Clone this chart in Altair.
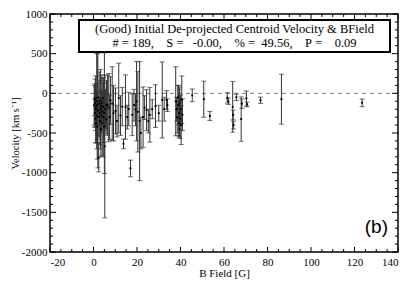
import altair as alt
import pandas as pd

# B field [G]
bfield = [
    0.3, 0.5, 0.6, 0.8, 0.9, 1.0, 1.1, 1.2, 1.3, 1.5, 1.6, 1.7, 1.8, 2.0, 2.1, 2.4,
    2.5, 2.6, 2.8, 3.0, 3.1, 3.2, 3.4, 3.5, 3.6, 3.8, 4.0, 4.1, 4.3, 4.5, 4.6, 4.8,
    5.0, 5.2, 5.5, 5.8, 6.0,
    6.4, 7.0, 7.4, 7.8, 8.6, 9.2, 10.1, 10.8, 11.6, 12.4, 13.2, 13.8, 14.7, 15.5,
    16.2, 17.0, 17.8, 18.6, 19.3, 19.8, 20.4, 21.2, 21.8, 22.8, 23.5, 24.4, 25.2,
    25.9, 27.0, 28.5, 30.0, 31.6, 32.5, 33.6, 34.0,
    37.8, 38.2, 38.5, 38.8, 39.0, 39.2, 39.4, 39.5, 39.6, 39.8, 40.0, 40.3, 40.6, 40.9,
    45.4, 50.7, 53.5, 61.5, 62.0, 64.0, 64.2, 64.4, 65.7, 67.9, 68.2, 70.3, 70.6,
    76.8, 86.4, 123.5,
]
# de-projected centroid velocity [km/s]
velocity = [
    -150, -80, -250, -120, -320, -200, -60, -380, -180, -100, -280, -150, -420, -220, -50, -810,
    -300, -130, -250, -350, -90, -200, -450, -160, -280, -120, -380, -230, -60, -300, -170, -420,
    -250, -670, -200, -330, -140,
    -150, -180, -300, -90, -130, -250, -222, -350, -60, -280, -167, -637, -173, -300,
    -198, -947, -270, -150, -205, -100, -233, -350, -500, -300, -180, -212, -350,
    -270, -200, -161, -250, -83, -200, -85, -150,
    -100, -200, -300, -50, -150, -380, -250, -450, -120, -320, -200, -400, -80, -270,
    -25, -74, -285, -57, -100, -170, -273, -400, -50, -325, -130, -65, -140,
    -87, -74, -120,
]
# 1-sigma uncertainty [km/s]
error = [
    250, 200, 180, 300, 150, 420, 140, 250, 200, 600, 300, 680, 200, 720, 180, 180,
    250, 400, 150, 300, 250, 500, 350, 200, 220, 350, 400, 150, 250, 500, 300, 200,
    760, 900, 250, 180, 300,
    380, 430, 280, 300, 465, 350, 290, 200, 440, 250, 242, 60, 405, 150,
    211, 105, 263, 200, 204, 500, 507, 750, 200, 380, 150, 258, 150,
    345, 120, 269, 100, 480, 150, 118, 80,
    435, 150, 200, 150, 250, 150, 300, 100, 200, 250, 180, 245, 300, 200,
    80, 228, 57, 65, 40, 320, 60, 50, 40, 280, 60, 95, 30,
    40, 315, 48,
]

x_major = [-20, 0, 20, 40, 60, 80, 100, 120, 140]
x_minor = [v for v in range(-20, 141, 5) if v % 20 != 0]
y_major = [-2000, -1500, -1000, -500, 0, 500, 1000]
y_minor = [v for v in range(-2000, 1001, 100) if v % 500 != 0]

title_line1 = "(Good) Initial De-projected Centroid Velocity & BField"
title_line2 = "# = 189,    S =   -0.00,    % =  49.56,    P =    0.09".replace(" ", "\u00a0")
panel_label = "(b)"

W, H = 348, 238
SERIF = "Liberation Serif"

df = pd.DataFrame({"b": bfield, "v": velocity, "e": error})
df["lo"] = df["v"] - df["e"]
df["hi"] = df["v"] + df["e"]

xscale = alt.Scale(domain=[-20, 140], nice=False, zero=False)
yscale = alt.Scale(domain=[-2000, 1000], nice=False, zero=False)

xaxis = alt.Axis(values=x_major, ticks=False, domain=False, grid=False,
                 labelExpr="'' + datum.value", labelFont=SERIF, labelFontSize=11,
                 labelColor="black", labelPadding=4, title="B Field [G]",
                 titleFont=SERIF, titleFontSize=11, titleFontWeight="normal",
                 titleColor="black", titlePadding=0)
yaxis = alt.Axis(values=y_major, ticks=False, domain=False, grid=False,
                 labelExpr="'' + datum.value", labelFont=SERIF, labelFontSize=11,
                 labelColor="black", labelPadding=3, title="Velocity [km s\u207b\u00b9]",
                 titleFont=SERIF, titleFontSize=10.5, titleFontWeight="normal",
                 titleColor="black", titlePadding=1)


def X(field):
    return alt.X(field, scale=xscale, axis=xaxis)


def Y(field):
    return alt.Y(field, scale=yscale, axis=yaxis)


base = alt.Chart(df)
ERR_C = "#333333"

zero_line = alt.Chart(pd.DataFrame({"z": [0]})).mark_rule(
    strokeDash=[4, 4], color="#777777", strokeWidth=1
).encode(y=Y("z:Q"))

bars = base.mark_rule(color=ERR_C, strokeWidth=1).encode(
    x=X("b:Q"), y=Y("lo:Q"), y2="hi:Q")
caps_lo = base.mark_tick(orient="horizontal", color=ERR_C, size=5, thickness=1).encode(
    x=X("b:Q"), y=Y("lo:Q"))
caps_hi = base.mark_tick(orient="horizontal", color=ERR_C, size=5, thickness=1).encode(
    x=X("b:Q"), y=Y("hi:Q"))
pts = base.mark_point(filled=True, size=5, color="black", opacity=1).encode(
    x=X("b:Q"), y=Y("v:Q"))

one = pd.DataFrame({"a": [0]})
box = alt.Chart(one).mark_rect(fill="white", stroke="black", strokeWidth=2).encode(
    x=alt.value(29), x2=alt.value(340), y=alt.value(6), y2=alt.value(38))
t1 = alt.Chart(one).mark_text(font=SERIF, fontSize=12.5, align="center",
                              baseline="alphabetic", color="black").encode(
    x=alt.value(184.5), y=alt.value(19), text=alt.value(title_line1))
t2 = alt.Chart(one).mark_text(font=SERIF, fontSize=12.5, align="center",
                              baseline="alphabetic", color="black").encode(
    x=alt.value(184.5), y=alt.value(32.5), text=alt.value(title_line2))
lab = alt.Chart(one).mark_text(font="Liberation Sans", fontSize=19, align="right",
                               baseline="alphabetic", color="black").encode(
    x=alt.value(338), y=alt.value(219), text=alt.value(panel_label))


def xticks(vals, length):
    d = pd.DataFrame({"t": vals})
    bot = alt.Chart(d).mark_rule(color="black", strokeWidth=1).encode(
        x=X("t:Q"), y=alt.value(H), y2=alt.value(H - length))
    top = alt.Chart(d).mark_rule(color="black", strokeWidth=1).encode(
        x=X("t:Q"), y=alt.value(0), y2=alt.value(length))
    return [bot, top]


def yticks(vals, length):
    d = pd.DataFrame({"t": vals})
    left = alt.Chart(d).mark_rule(color="black", strokeWidth=1).encode(
        y=Y("t:Q"), x=alt.value(0), x2=alt.value(length))
    right = alt.Chart(d).mark_rule(color="black", strokeWidth=1).encode(
        y=Y("t:Q"), x=alt.value(W), x2=alt.value(W - length))
    return [left, right]


layers = [zero_line, bars, caps_lo, caps_hi, pts, box, t1, t2, lab]
layers += xticks(x_major, 5) + xticks(x_minor, 3) + yticks(y_major, 6) + yticks(y_minor, 3)

chart = alt.layer(*layers).properties(
    width=W, height=H,
    autosize=alt.AutoSizeParams(type="none"),
    padding={"left": 42, "top": 6, "right": 1, "bottom": 28},
    background="white",
).configure_view(stroke="black", strokeWidth=1.5)

chart.save("out.html", embed_options={"renderer": "svg", "actions": False})
